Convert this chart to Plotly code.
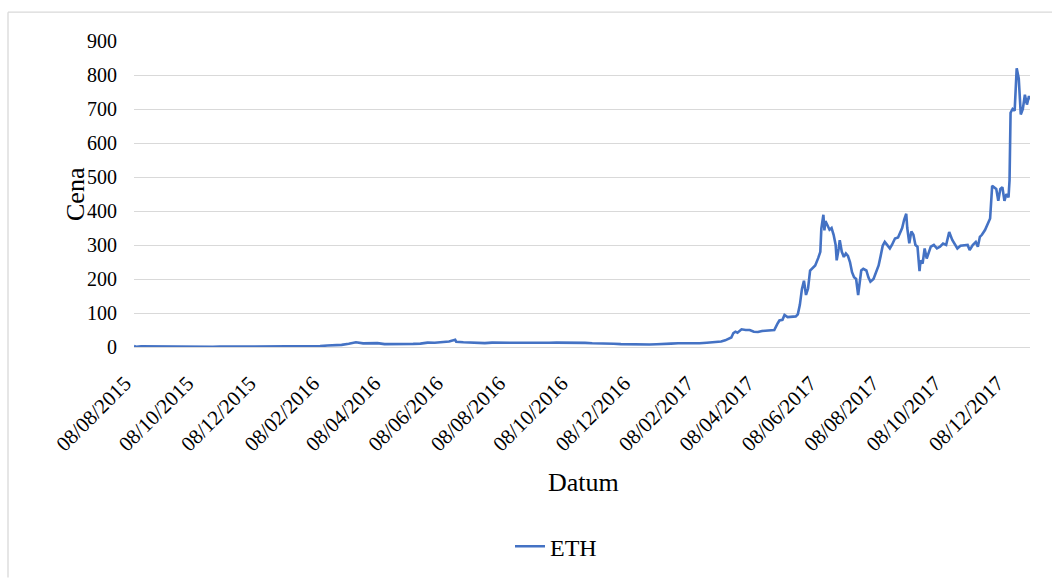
import plotly.graph_objects as go
import pandas as pd

dates = [
    "2015-08-08", "2015-08-10", "2015-08-15", "2015-08-22", "2015-08-29", "2015-09-05", "2015-09-12",
    "2015-09-19", "2015-09-26", "2015-10-03", "2015-10-10", "2015-10-17", "2015-10-24", "2015-10-31",
    "2015-11-07", "2015-11-14", "2015-11-21", "2015-11-28", "2015-12-05", "2015-12-12", "2015-12-19",
    "2015-12-26", "2016-01-02", "2016-01-09", "2016-01-16", "2016-01-23", "2016-01-30", "2016-02-06",
    "2016-02-13", "2016-02-20", "2016-02-27", "2016-03-05", "2016-03-12", "2016-03-19", "2016-03-26",
    "2016-04-02", "2016-04-09", "2016-04-16", "2016-04-23", "2016-04-30", "2016-05-07", "2016-05-14",
    "2016-05-21", "2016-05-28", "2016-06-04", "2016-06-11", "2016-06-17", "2016-06-18", "2016-06-25",
    "2016-07-02", "2016-07-09", "2016-07-16", "2016-07-23", "2016-07-30", "2016-08-06", "2016-08-13",
    "2016-08-20", "2016-08-27", "2016-09-03", "2016-09-10", "2016-09-17", "2016-09-24", "2016-10-01",
    "2016-10-08", "2016-10-15", "2016-10-22", "2016-10-29", "2016-11-05", "2016-11-12", "2016-11-19",
    "2016-11-26", "2016-12-03", "2016-12-10", "2016-12-17", "2016-12-24", "2016-12-31", "2017-01-07",
    "2017-01-14", "2017-01-21", "2017-01-28", "2017-02-04", "2017-02-11", "2017-02-18", "2017-02-25",
    "2017-03-04", "2017-03-08", "2017-03-12", "2017-03-14", "2017-03-16", "2017-03-18", "2017-03-20",
    "2017-03-24", "2017-03-28", "2017-04-01", "2017-04-05", "2017-04-09", "2017-04-13", "2017-04-17",
    "2017-04-21", "2017-04-25", "2017-04-28", "2017-04-30", "2017-05-03", "2017-05-05", "2017-05-08",
    "2017-05-12", "2017-05-16", "2017-05-18", "2017-05-20", "2017-05-22", "2017-05-24", "2017-05-26",
    "2017-05-28", "2017-05-30", "2017-06-01", "2017-06-04", "2017-06-07", "2017-06-09", "2017-06-10",
    "2017-06-12", "2017-06-13", "2017-06-14", "2017-06-16", "2017-06-18", "2017-06-20", "2017-06-22",
    "2017-06-24", "2017-06-25", "2017-06-27", "2017-06-28", "2017-06-30", "2017-07-02", "2017-07-04",
    "2017-07-06", "2017-07-08", "2017-07-10", "2017-07-12", "2017-07-14", "2017-07-16", "2017-07-18",
    "2017-07-19", "2017-07-21", "2017-07-24", "2017-07-26", "2017-07-28", "2017-07-31", "2017-08-03",
    "2017-08-05", "2017-08-07", "2017-08-09", "2017-08-11", "2017-08-13", "2017-08-16", "2017-08-18",
    "2017-08-21", "2017-08-24", "2017-08-26", "2017-08-28", "2017-08-30", "2017-09-01", "2017-09-02",
    "2017-09-04", "2017-09-06", "2017-09-08", "2017-09-10", "2017-09-12", "2017-09-14", "2017-09-15",
    "2017-09-17", "2017-09-19", "2017-09-21", "2017-09-23", "2017-09-25", "2017-09-28", "2017-10-01",
    "2017-10-04", "2017-10-07", "2017-10-10", "2017-10-13", "2017-10-16", "2017-10-18", "2017-10-21",
    "2017-10-24", "2017-10-28", "2017-10-31", "2017-11-02", "2017-11-05", "2017-11-08", "2017-11-10",
    "2017-11-12", "2017-11-14", "2017-11-17", "2017-11-20", "2017-11-22", "2017-11-24", "2017-11-26",
    "2017-11-28", "2017-11-30", "2017-12-02", "2017-12-04", "2017-12-06", "2017-12-08", "2017-12-10",
    "2017-12-11", "2017-12-12", "2017-12-14", "2017-12-16", "2017-12-18", "2017-12-20", "2017-12-22",
    "2017-12-24", "2017-12-26", "2017-12-28", "2017-12-30", "2017-12-31",
]

eth = [
    2.8, 0.7, 1.7, 1.4, 1.2, 1.3, 0.9,
    0.9, 0.8, 0.7, 0.6, 0.5, 0.6, 1.0,
    1.0, 0.9, 1.0, 0.9, 0.85, 0.9, 0.9,
    0.85, 0.95, 1.0, 1.3, 2.1, 2.4, 2.5,
    4.5, 4.6, 6.3, 9.5, 14.0, 10.8, 10.8,
    11.5, 8.6, 8.3, 7.8, 8.8, 9.3, 10.0,
    12.8, 12.6, 13.9, 16.0, 21.0, 15.5, 13.9,
    12.5, 10.9, 11.5, 12.8, 12.7, 11.0, 11.0,
    11.3, 11.4, 11.9, 12.2, 12.5, 12.9, 13.2,
    12.0, 11.9, 12.0, 11.0, 11.0, 10.2, 9.7,
    8.6, 7.8, 8.3, 7.9, 7.2, 8.0, 9.8,
    9.8, 10.9, 10.5, 11.4, 11.2, 12.5, 13.9,
    16.0, 19.6, 24.0, 28.0, 41.0, 45.0, 42.0,
    52.0, 50.0, 50.0, 45.0, 44.0, 47.0, 48.0,
    48.0, 50.0, 68.0, 78.0, 80.0, 94.0, 88.0,
    88.0, 90.0, 96.0, 124.0, 170.0, 195.0, 153.0,
    172.0, 225.0, 231.0, 240.0, 262.0, 280.0, 348.0,
    389.0, 343.0, 370.0, 358.0, 345.0, 350.0, 330.0,
    300.0, 255.0, 290.0, 314.0, 280.0, 265.0, 275.0,
    268.0, 250.0, 220.0, 205.0, 200.0, 153.0, 205.0,
    225.0, 230.0, 225.0, 205.0, 192.0, 200.0, 221.0,
    240.0, 268.0, 298.0, 309.0, 300.0, 290.0, 300.0,
    319.0, 322.0, 338.0, 350.0, 375.0, 392.0, 350.0,
    305.0, 340.0, 330.0, 300.0, 295.0, 223.0, 255.0,
    245.0, 290.0, 260.0, 280.0, 295.0, 300.0, 290.0,
    295.0, 304.0, 300.0, 338.0, 315.0, 305.0, 290.0,
    298.0, 299.0, 300.0, 285.0, 300.0, 309.0, 295.0,
    324.0, 330.0, 344.0, 363.0, 378.0, 474.0, 470.0,
    465.0, 430.0, 465.0, 470.0, 430.0, 450.0, 440.0,
    490.0, 689.0, 700.0, 695.0, 820.0, 790.0, 684.0,
    700.0, 742.0, 713.0, 738.0, 728.0,
]

tick_dates = [
    "2015-08-08", "2015-10-08", "2015-12-08", "2016-02-08", "2016-04-08", "2016-06-08", "2016-08-08",
    "2016-10-08", "2016-12-08", "2017-02-08", "2017-04-08", "2017-06-08", "2017-08-08", "2017-10-08",
    "2017-12-08",
]
tick_labels = [pd.Timestamp(d).strftime("%d/%m/%Y") for d in tick_dates]
y_ticks = list(range(0, 1000, 100))

FONT = "Liberation Serif"
GRID = "#d9d9d9"

fig = go.Figure()
fig.add_trace(go.Scatter(
    x=pd.to_datetime(dates), y=eth, mode="lines", name="ETH",
    line=dict(color="#4472C4", width=2.6),
))

L, R, T, B = 134, 34, 41, 232
W, H = 1064, 581
pw, ph = W - L - R, H - T - B

def px_x(px):
    return (px - L) / pw

def px_y(py):
    return (H - B - py) / ph

fig.update_layout(
    width=W, height=H,
    margin=dict(l=L, r=R, t=T, b=B),
    paper_bgcolor="white", plot_bgcolor="white",
    font=dict(family=FONT, color="black", size=20),
    showlegend=True,
    legend=dict(orientation="h", x=px_x(556), xanchor="center", y=px_y(550), yanchor="middle",
                font=dict(size=24, family=FONT, color="black"), bgcolor="rgba(0,0,0,0)"),
    xaxis=dict(
        type="date",
        range=[pd.Timestamp("2015-08-08"), pd.Timestamp("2017-12-31")],
        tickvals=pd.to_datetime(tick_dates), ticktext=tick_labels,
        tickangle=-45, showgrid=False, zeroline=False, showline=False,
        ticks="", ticklabelstandoff=19, ticklabelshift=-9,
        tickfont=dict(size=21, family=FONT, color="black"),
    ),
    yaxis=dict(
        range=[0, 900], tickvals=y_ticks, showgrid=True, gridcolor=GRID, gridwidth=1.3,
        zeroline=True, zerolinecolor=GRID, zerolinewidth=1.3, showline=False, ticks="",
        ticklabelstandoff=16, tickfont=dict(size=20, family=FONT, color="black"),
    ),
    annotations=[
        dict(text="Cena", xref="paper", yref="paper", x=px_x(75), y=px_y(195), textangle=-90,
             showarrow=False, font=dict(size=26, family=FONT, color="black"),
             xanchor="center", yanchor="middle"),
        dict(text="Datum", xref="paper", yref="paper", x=px_x(583), y=px_y(485),
             showarrow=False, font=dict(size=26, family=FONT, color="black"),
             xanchor="center", yanchor="middle"),
    ],
    shapes=[
        dict(type="line", xref="paper", yref="paper", x0=px_x(8), x1=px_x(8), y0=px_y(12), y1=px_y(581),
             line=dict(color=GRID, width=1.3)),
        dict(type="line", xref="paper", yref="paper", x0=px_x(8), x1=px_x(1052), y0=px_y(12), y1=px_y(12),
             line=dict(color=GRID, width=1.3)),
    ],
)

fig.write_html(
    "out.html",
    config={"displayModeBar": False},
    post_script="document.body.style.margin='0';document.body.style.overflow='hidden';",
)
